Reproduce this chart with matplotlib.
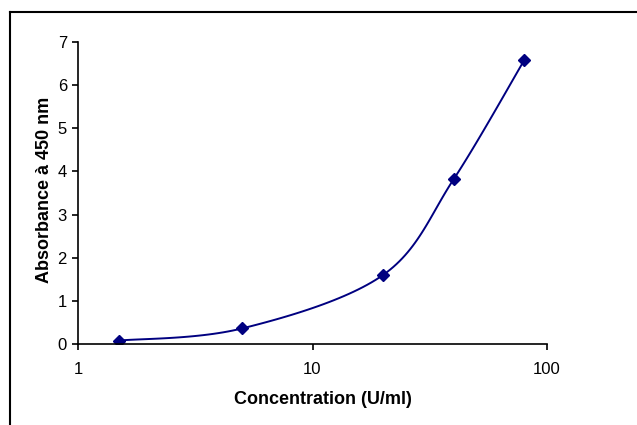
import numpy as np
import matplotlib
matplotlib.use("Agg")
import matplotlib.pyplot as plt
from matplotlib.lines import Line2D
from matplotlib.ticker import FixedLocator, FixedFormatter, NullLocator

# Data
concentration = [1.5, 5, 20, 40, 80]
absorbance = [0.08, 0.36, 1.6, 3.82, 6.58]

x_ticks = [1, 10, 100]
x_tick_labels = ["1", "10", "100"]
y_ticks = [0, 1, 2, 3, 4, 5, 6, 7]


def smooth_curve(xs, ys, n=30):
    # Catmull-Rom smoothing in log-x space (like Excel's smoothed line)
    lx = np.log10(xs)
    ys = np.asarray(ys, dtype=float)
    P = np.column_stack([lx, ys])
    P = np.vstack([P[0], P, P[-1]])
    out = []
    for i in range(1, len(P) - 2):
        p0, p1, p2, p3 = P[i - 1], P[i], P[i + 1], P[i + 2]
        c1 = p1 + (p2 - p0) / 6
        c2 = p2 - (p3 - p1) / 6
        t = np.linspace(0, 1, n)[:, None]
        seg = ((1 - t) ** 3) * p1 + 3 * ((1 - t) ** 2) * t * c1 + 3 * (1 - t) * t ** 2 * c2 + t ** 3 * p2
        out.append(seg if i == 1 else seg[1:])
    out = np.vstack(out)
    return 10 ** out[:, 0], out[:, 1]


plt.rcParams['font.family'] = ['Liberation Sans', 'DejaVu Sans']

fig = plt.figure(figsize=(6.37, 4.25), dpi=100)
ax = fig.add_axes([78 / 637, 1 - 344 / 425, 469 / 637, 302 / 425])

sx, sy = smooth_curve(concentration, absorbance)
ax.plot(sx, sy, color='#000080', linewidth=1.4)
ax.plot(concentration, absorbance, linestyle='none', marker='D',
        markersize=6, color='#000080')

ax.set_xscale('log')
ax.set_xlim(1, 100)
ax.set_ylim(0, 7)
ax.xaxis.set_major_locator(FixedLocator(x_ticks))
ax.xaxis.set_major_formatter(FixedFormatter(x_tick_labels))
ax.xaxis.set_minor_locator(NullLocator())
ax.set_yticks(y_ticks)

for s in ['top', 'right']:
    ax.spines[s].set_visible(False)
for s in ['left', 'bottom']:
    ax.spines[s].set_linewidth(1.2)

ax.tick_params(axis='both', direction='out', length=4, width=1.2,
               labelsize=12, pad=4, colors='black')
ax.tick_params(axis='x', pad=9)
ax.set_xlabel('Concentration (U/ml)', fontsize=13, fontweight='bold')
ax.set_ylabel('Absorbance à 450 nm', fontsize=13, fontweight='bold')
ax.xaxis.set_label_coords(0.5213, -0.155)
ax.yaxis.set_label_coords(-0.054, 0.512)

# outer chart frame (cut off at right and bottom)
fig.add_artist(Line2D([10 / 637, 10 / 637], [0, 1 - 12 / 425], color='black', linewidth=1.5))
fig.add_artist(Line2D([10 / 637, 1], [1 - 12 / 425, 1 - 12 / 425], color='black', linewidth=1.5))

fig.savefig('out.png', dpi=100)
